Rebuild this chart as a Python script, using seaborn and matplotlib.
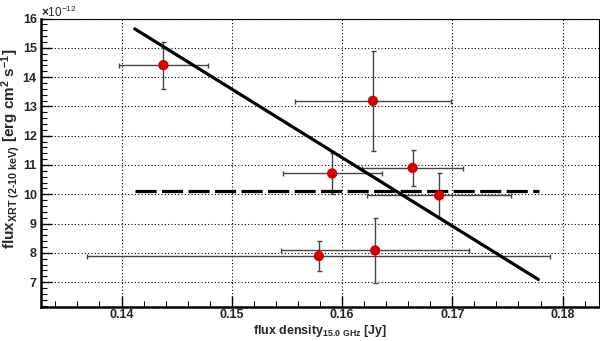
import matplotlib
matplotlib.use("Agg")
import matplotlib.pyplot as plt
import seaborn as sns
import numpy as np
import pandas as pd
from matplotlib.ticker import MultipleLocator, FuncFormatter

# ---- data (flux in units of 1e-12 erg cm^2 s^-1) ----
radio_flux = [0.1438, 0.1628, 0.1591, 0.1664, 0.1688, 0.1579, 0.1630]
radio_err = [0.0040, 0.0071, 0.0045, 0.0046, 0.0065, 0.0210, 0.0085]
xrt_flux = [14.41, 13.19, 10.71, 10.90, 9.96, 7.89, 8.08]
xrt_err = [0.80, 1.70, 0.70, 0.61, 0.77, 0.50, 1.10]

fit_x = [0.1412, 0.1778]
fit_y = [15.65, 7.09]
mean_x = [0.1412, 0.1779]
mean_y = [10.12, 10.12]

xticks = [0.14, 0.15, 0.16, 0.17, 0.18]
yticks = [7, 8, 9, 10, 11, 12, 13, 14, 15, 16]

sns.set_theme(style="white")
plt.rcParams["font.family"] = ["Liberation Sans", "DejaVu Sans"]
plt.rcParams["mathtext.fontset"] = "custom"
plt.rcParams["mathtext.rm"] = "Liberation Sans:bold"
plt.rcParams["mathtext.it"] = "Liberation Sans:bold"
plt.rcParams["mathtext.bf"] = "Liberation Sans:bold"

fig = plt.figure(figsize=(6.0, 3.41), dpi=100)
ax = fig.add_axes([41/600, (341-306.7)/341, 558/600, (306.7-18.6)/341])

df = pd.DataFrame({"x": radio_flux, "y": xrt_flux})
fit_df = pd.DataFrame({"x": fit_x, "y": fit_y})
mean_df = pd.DataFrame({"x": mean_x, "y": mean_y})

ax.errorbar(radio_flux, xrt_flux, xerr=radio_err, yerr=xrt_err, fmt="none",
            ecolor="#444444", elinewidth=1.0, capsize=1.8, capthick=1.0, zorder=2)
sns.lineplot(data=fit_df, x="x", y="y", ax=ax, color="black", lw=2.3,
             zorder=3, estimator=None, sort=False)
sns.lineplot(data=mean_df, x="x", y="y", ax=ax, color="black", lw=2.3,
             zorder=3, estimator=None, sort=False, dashes=False)
ax.lines[-1].set_dashes([6.6, 1.7])
sns.scatterplot(data=df, x="x", y="y", ax=ax, color="#d40000", s=55,
                edgecolor="none", zorder=4)

ax.set_xlim(0.1327, 0.1833)
ax.set_ylim(6.16, 16.0)
ax.set_xticks(xticks)
ax.set_yticks(yticks)
ax.xaxis.set_major_formatter(FuncFormatter(lambda v, p: f"{v:.2f}"))
ax.yaxis.set_major_formatter(FuncFormatter(lambda v, p: f"{v:g}"))
ax.xaxis.set_minor_locator(MultipleLocator(0.002))
ax.yaxis.set_minor_locator(MultipleLocator(0.2))
ax.tick_params(axis="both", which="major", direction="in", length=8, width=1.0,
               color="black", labelsize=9, bottom=True, left=True, top=False, right=False, pad=3)
ax.tick_params(axis="x", which="major", pad=1.5)
ax.tick_params(axis="both", which="minor", direction="in", length=4, width=0.8,
               color="black", bottom=True, left=True, top=False, right=False)
for lab in ax.get_xticklabels() + ax.get_yticklabels():
    lab.set_fontweight("bold")

ax.grid(True, which="major", color="black", linestyle=(0, (1, 2)), linewidth=0.8)
for side in ["left", "bottom"]:
    ax.spines[side].set_color("black")
    ax.spines[side].set_linewidth(1.8)
for side in ["top", "right"]:
    ax.spines[side].set_color("black")
    ax.spines[side].set_linewidth(0.8)

ax.set_xlabel("")
ax.set_ylabel("")
fig.text(320/600, 1 - 331/341, r"flux density$_{\mathregular{15.0\ GHz}}$ [Jy]",
         fontsize=9, fontweight="bold", ha="center", va="center")
fig.text(11/600, 1 - 149/341,
         r"flux$_{\mathregular{XRT\ (2\text{-}10\ keV)}}$ [erg cm$^{\mathregular{2}}$ s$^{\mathregular{-1}}$]",
         fontsize=11, fontweight="bold", ha="center", va="center", rotation=90)

fig.text(41/600, 1 - 12/341, r"$\times$10$^{\mathregular{-12}}$", fontsize=8.5,
         ha="left", va="center")

fig.savefig("out.png", dpi=100)
